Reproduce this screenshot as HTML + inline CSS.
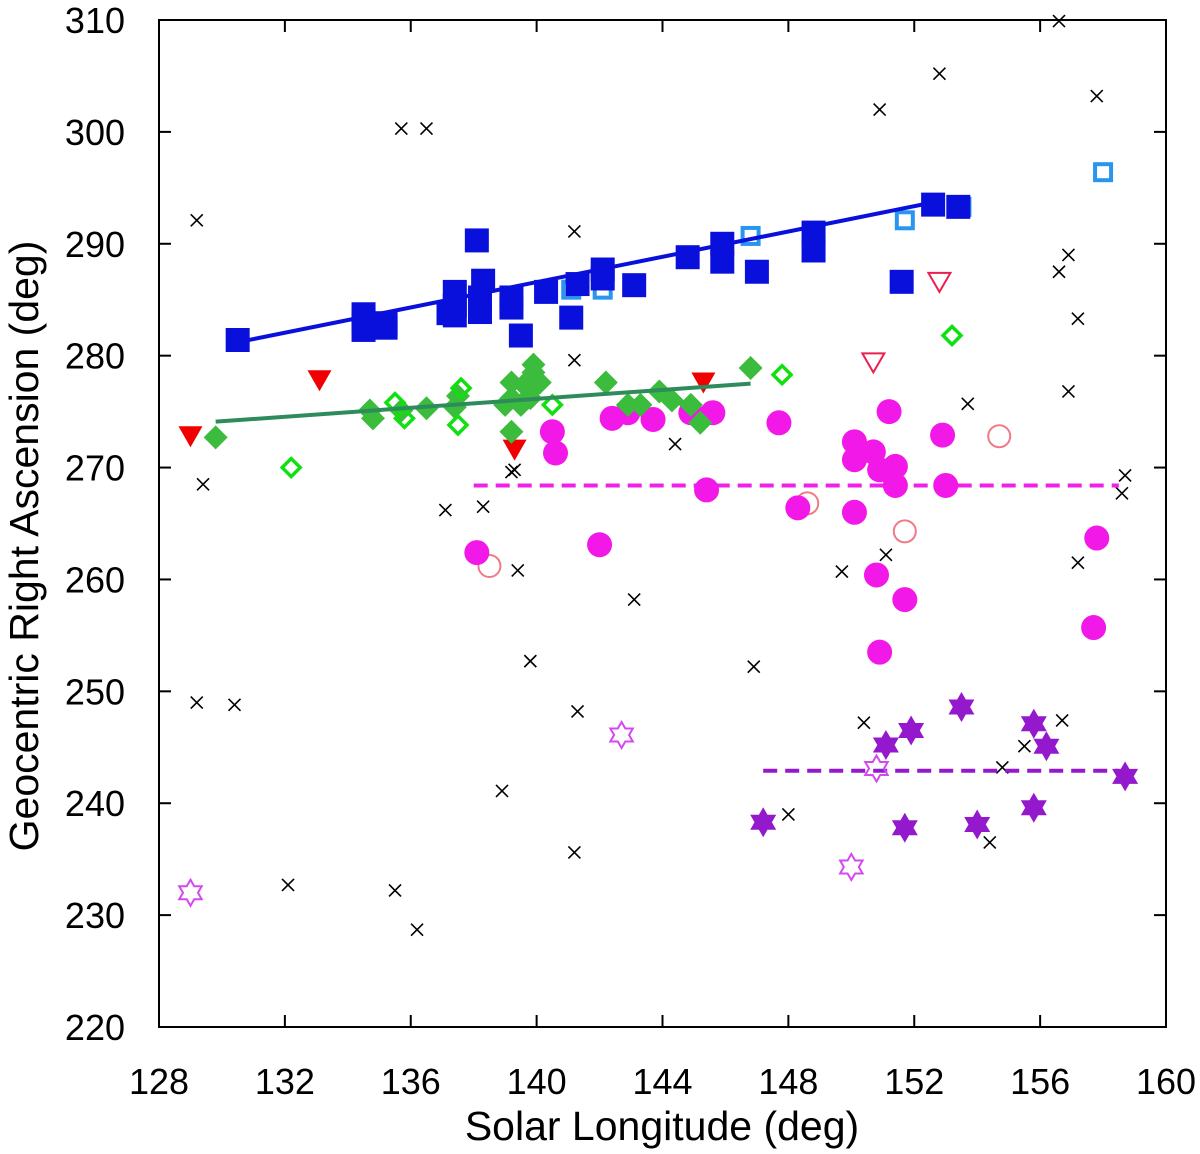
<!DOCTYPE html>
<html><head><meta charset="utf-8"><style>
body{margin:0;background:#fff}
svg{display:block;font-family:"Liberation Sans",Arial,sans-serif}
</style></head><body>
<svg id="chart" width="1200" height="1154" viewBox="0 0 1200 1154" xmlns="http://www.w3.org/2000/svg"></svg>
<script>
const xTicks=[128,132,136,140,144,148,152,156,160];
const yTicks=[220,230,240,250,260,270,280,290,300,310];
const blueX=[130.5,134.5,134.5,134.5,135.2,135.2,137.4,137.4,137.4,137.2,138.2,138.2,138.3,138.1,139.2,139.2,139.5,140.3,141.1,141.3,142.1,142.1,143.1,144.8,145.9,145.9,147.0,148.8,148.8,152.6,151.6,153.4];
const blueY=[281.4,283.0,282.3,283.7,282.5,282.9,285.7,284.5,283.6,283.8,283.9,285.2,286.7,290.3,285.2,284.3,281.8,285.7,283.4,286.4,287.7,286.9,286.3,288.8,290.0,288.4,287.5,291.0,289.4,293.5,286.6,293.3];
const lblueX=[146.8,151.7,153.5,158.0,141.1,142.1];
const lblueY=[290.7,292.1,293.3,296.4,285.9,285.9];
const greenX=[129.8,134.7,134.8,135.7,136.5,137.4,137.5,139.0,139.2,139.2,139.5,139.6,139.8,139.9,140.0,139.9,140.1,139.2,142.2,142.9,143.3,143.9,144.3,144.9,145.2,146.8];
const greenY=[272.7,275.1,274.4,275.1,275.3,275.4,276.4,275.6,277.6,276.2,275.6,277.4,276.2,278.5,277.4,279.2,277.6,273.2,277.6,275.6,275.6,276.8,276.0,275.6,274.0,278.9];
const ogreenX=[132.2,135.5,135.8,137.6,137.5,140.5,147.8,153.2];
const ogreenY=[270.0,275.8,274.4,277.1,273.8,275.6,278.3,281.8];
const redX=[129.0,133.1,139.3,145.3];
const redY=[272.8,277.8,271.6,277.6];
const oredX=[152.8,150.7];
const oredY=[286.6,279.4];
const magX=[138.1,140.5,140.6,142.0,142.4,142.9,143.7,144.9,145.6,145.4,147.7,148.3,150.1,150.1,150.1,150.7,150.9,151.2,151.4,151.4,150.8,150.9,151.7,152.9,153.0,157.8,157.7];
const magY=[262.4,273.2,271.3,263.1,274.4,274.9,274.3,274.9,274.9,268.0,274.0,266.4,272.3,270.7,266.0,271.4,269.8,275.0,270.1,268.4,260.4,253.5,258.2,272.9,268.4,263.7,255.7];
const pinkX=[138.5,148.6,151.7,154.7];
const pinkY=[261.2,266.8,264.3,272.8];
const purX=[147.2,151.1,151.9,153.5,155.8,156.2,151.7,154.0,155.8,158.7];
const purY=[238.3,245.2,246.5,248.6,247.1,245.1,237.8,238.1,239.6,242.4];
const ostarX=[129.0,142.7,150.8,150.0];
const ostarY=[232.0,246.1,243.1,234.3];
const crossX=[129.2,129.4,129.2,130.4,132.1,135.5,136.2,135.7,136.5,137.1,138.3,139.2,139.3,139.4,139.8,138.9,141.2,141.2,141.3,141.2,143.1,144.4,146.9,148.0,149.7,150.4,150.9,151.1,152.8,153.4,153.7,154.4,154.8,155.5,156.6,156.6,156.7,156.9,156.9,157.2,157.2,157.8,158.7,158.6];
const crossY=[292.1,268.5,249.0,248.8,232.7,232.2,228.7,300.3,300.3,266.2,266.5,269.6,269.8,260.8,252.7,241.1,291.1,279.6,248.2,235.6,258.2,272.1,252.2,239.0,260.7,247.2,302.0,262.2,305.2,293.2,275.7,236.5,243.2,245.1,309.9,287.5,247.4,289.0,276.8,283.3,261.5,303.2,269.3,267.7];
const blueLine=[[130.5,281.2],[152.6,293.7]];
const greenLine=[[129.8,274.1],[146.8,277.5]];
const magLine=[[138.0,268.4],[158.5,268.4]];
const purLine=[[147.2,242.9],[158.5,242.9]];

const L=159,R=1166,T=20,B=1027;
const sx=v=>L+(v-128)/(160-128)*(R-L);
const sy=v=>B-(v-220)/(310-220)*(B-T);
const svg=document.getElementById('chart');
const NS='http://www.w3.org/2000/svg';
function mk(tag,attrs,parent){const e=document.createElementNS(NS,tag);for(const k in attrs)e.setAttribute(k,attrs[k]);(parent||svg).appendChild(e);return e;}

const frame=mk('rect',{x:L,y:T,width:R-L,height:B-T,fill:'none',stroke:'#000','stroke-width':2});


xTicks.forEach(t=>{const x=sx(t);
 mk('line',{x1:x,y1:B,x2:x,y2:B-12,stroke:'#000','stroke-width':2});
 mk('line',{x1:x,y1:T,x2:x,y2:T+12,stroke:'#000','stroke-width':2});
 const tx=mk('text',{x:x,y:1094,'font-size':36,'text-anchor':'middle',fill:'#000'});tx.textContent=t;
 
 
});
yTicks.forEach(t=>{const y=sy(t);
 mk('line',{x1:L,y1:y,x2:L+12,y2:y,stroke:'#000','stroke-width':2});
 mk('line',{x1:R,y1:y,x2:R-12,y2:y,stroke:'#000','stroke-width':2});
 const tx=mk('text',{x:125,y:y+13,'font-size':36,'text-anchor':'end',fill:'#000'});tx.textContent=t;
 
 
});
const xt=mk('text',{x:662,y:1140,'font-size':41,'text-anchor':'middle',fill:'#000'});xt.textContent='Solar Longitude (deg)';


const yt=mk('text',{x:0,y:0,'font-size':41,'text-anchor':'middle',fill:'#000',transform:'translate(38,546) rotate(-90)'});yt.textContent='Geocentric Right Ascension (deg)';



function line(p,color,dash,name){const l=mk('line',{x1:sx(p[0][0]),y1:sy(p[0][1]),x2:sx(p[1][0]),y2:sy(p[1][1]),stroke:color,'stroke-width':4,'stroke-dasharray':dash||'none'});
 
 }

function star(cx,cy,r){const pts=[];for(let i=0;i<12;i++){const rr=i%2?r*0.577:r;const t=-Math.PI/2+i*Math.PI/6;pts.push((cx+rr*Math.cos(t)).toFixed(1)+','+(cy+rr*Math.sin(t)).toFixed(1));}
 return pts.join(' ');}

function series(xs,ys,kind,name){xs.forEach((v,i)=>{const x=sx(v),y=sy(ys[i]);let e;
 if(kind==='bsq')e=mk('rect',{x:x-12,y:y-12,width:24,height:24,fill:'#0a10dc'});
 else if(kind==='lbsq')e=mk('rect',{x:x-8,y:y-8,width:16,height:16,fill:'none',stroke:'#2896f0','stroke-width':4});
 else if(kind==='gd')e=mk('polygon',{points:`${x},${y-12} ${x+12},${y} ${x},${y+12} ${x-12},${y}`,fill:'#3cbc3c'});
 else if(kind==='ogd')e=mk('polygon',{points:`${x},${y-9} ${x+9},${y} ${x},${y+9} ${x-9},${y}`,fill:'none',stroke:'#10e010','stroke-width':3.5});
 else if(kind==='rt')e=mk('polygon',{points:`${x-12},${y-10} ${x+12},${y-10} ${x},${y+11}`,fill:'#f00000'});
 else if(kind==='ort')e=mk('polygon',{points:`${x-11},${y-9} ${x+11},${y-9} ${x},${y+10}`,fill:'none',stroke:'#ea2050','stroke-width':2});
 else if(kind==='mc')e=mk('circle',{cx:x,cy:y,r:12.5,fill:'#f218e8'});
 else if(kind==='pc')e=mk('circle',{cx:x,cy:y,r:11,fill:'none',stroke:'#f07a86','stroke-width':2});
 else if(kind==='ps')e=mk('polygon',{points:star(x,y,15),fill:'#9418cc'});
 else if(kind==='os')e=mk('polygon',{points:star(x,y,13),fill:'none',stroke:'#d448f2','stroke-width':2});
 else if(kind==='x'){e=mk('path',{d:`M${x-6},${y-6}L${x+6},${y+6}M${x-6},${y+6}L${x+6},${y-6}`,stroke:'#000','stroke-width':1.6,fill:'none'});}
 
 
});}

series(crossX,crossY,'x','other-meteor-cross');
line(magLine,'#f020e8','14 8','magenta-mean-line');
line(purLine,'#9418cc','14 8','purple-mean-line');
series(ostarX,ostarY,'os','open-violet-star');
series(purX,purY,'ps','purple-star');
series(pinkX,pinkY,'pc','open-pink-circle');
series(magX,magY,'mc','magenta-circle');
series(redX,redY,'rt','red-triangle');
series(oredX,oredY,'ort','open-red-triangle');
series(greenX,greenY,'gd','green-diamond');
series(ogreenX,ogreenY,'ogd','open-green-diamond');
line(greenLine,'#2e8b5c','','green-trend-line');
series(lblueX,lblueY,'lbsq','light-blue-open-square');
series(blueX,blueY,'bsq','blue-square');
line(blueLine,'#0a10dc','','blue-trend-line');
</script>
</body></html>
